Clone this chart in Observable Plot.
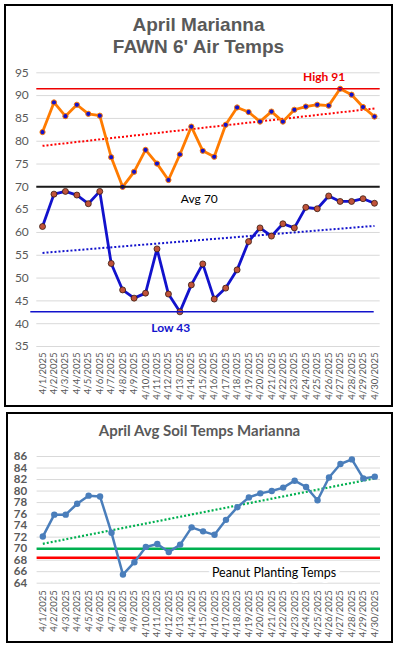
<!DOCTYPE html>
<html>
<head>
<meta charset="utf-8">
<script src="https://cdn.jsdelivr.net/npm/d3@7"></script>
<script src="https://cdn.jsdelivr.net/npm/@observablehq/plot@0.6"></script>
<style>
  body { margin: 0; background: #fff; }
  #wrap { position: relative; width: 399px; height: 650px; overflow: hidden; }
  .box { position: absolute; box-sizing: border-box; border: 2px solid #000; }
  .abs { position: absolute; }
  .t1 { left: 4px; width: 389px; top: 14px; text-align: center; font-family: "Liberation Sans", Arial, sans-serif; font-weight: bold; font-size: 19px; line-height: 22px; color: #595959; }
  .t2 { left: 6px; width: 387px; top: 421px; text-align: center; font-family: Lato, sans-serif; font-weight: bold; font-size: 15px; line-height: 18px; color: #595959; }
</style>
</head>
<body>
<div id="wrap">
  <div class="box" style="left:4px;top:4px;width:389px;height:403px"></div>
  <div class="abs t1">April Marianna<br>FAWN 6' Air Temps</div>
  <div id="top" class="abs" style="left:0;top:50px"></div>
  <div class="box" style="left:6px;top:412px;width:387px;height:231px"></div>
  <div class="abs t2">April Avg Soil Temps Marianna</div>
  <div id="bot" class="abs" style="left:0;top:440px"></div>
</div>
<script>
// ---- data ----
const dates = ["4/1/2025","4/2/2025","4/3/2025","4/4/2025","4/5/2025","4/6/2025","4/7/2025","4/8/2025","4/9/2025","4/10/2025",
  "4/11/2025","4/12/2025","4/13/2025","4/14/2025","4/15/2025","4/16/2025","4/17/2025","4/18/2025","4/19/2025","4/20/2025",
  "4/21/2025","4/22/2025","4/23/2025","4/24/2025","4/25/2025","4/26/2025","4/27/2025","4/28/2025","4/29/2025","4/30/2025"];
const highTemps = [82.0,88.5,85.5,88.0,86.0,85.6,76.5,70.0,73.3,78.1,75.1,71.5,77.1,83.2,77.9,76.6,83.6,87.4,86.4,84.3,
  86.5,84.3,86.9,87.6,88.0,87.8,91.5,90.2,87.5,85.4];
const lowTemps = [61.3,68.4,69.0,68.2,66.3,69.0,53.2,47.4,45.6,46.7,56.4,46.5,42.6,48.5,53.1,45.4,47.8,51.8,58.0,61.0,
  59.2,61.9,61.0,65.5,65.2,68.0,66.8,66.8,67.4,66.4];
const soilTemps = [72.1,75.9,75.9,77.8,79.2,79.05,72.75,65.5,67.65,70.3,70.8,69.4,70.7,73.7,73.0,72.4,75.0,77.2,78.9,79.6,
  80.0,80.6,81.8,80.7,78.4,82.35,84.7,85.5,82.2,82.5];
const airTicks = [35,40,45,50,55,60,65,70,75,80,85,90,95];
const soilTicks = [64,66,68,70,72,74,76,78,80,82,84,86];
const highRef = [{y: 91.5, label: "High 91", x: 25.6, ty: 94}];
const avgRef = [{y: 70, label: "Avg 70", x: 14.7, ty: 67.4}];
const lowRef = [{y: 42.6, label: "Low 43", x: 12.2, ty: 39.1}];
const soilRefs = [{y: 70, color: "#00B050"}, {y: 68.4, color: "#FF0000"}];
const soilNote = [{label: "Peanut Planting Temps", x: 21.2, y: 65.7}];

const rows = dates.map((d, i) => ({day: i + 1, label: d, high: highTemps[i], low: lowTemps[i], soil: soilTemps[i]}));
const dayTicks = rows.map(r => r.day);
const fmt = d => dates[d - 1];

const ORANGE = "#FF7B00", BLUE = "#1212CC", BROWN = "#C0533A";
const dotted = {strokeDasharray: "2,2", strokeLinecap: "butt", ci: 0};

const topChart = Plot.plot({
  width: 399, height: 356,
  marginLeft: 36.3, marginRight: 19.3, marginTop: 22.3, marginBottom: 60,
  x: {domain: [0.5, 30.5]},
  y: {domain: [35, 95]},
  style: {fontFamily: "Lato, sans-serif", background: "transparent", overflow: "visible"},
  marks: [
    Plot.gridY(airTicks, {stroke: "#d9d9d9", strokeOpacity: 1}),
    Plot.axisY(airTicks, {tickSize: 0, tickPadding: 8, fontSize: 12, fill: "#595959"}),
    Plot.axisX(dayTicks, {tickSize: 0, tickPadding: 6, tickRotate: -90, tickFormat: fmt, fontSize: 9.5, fill: "#595959"}),
    Plot.linearRegressionY(rows, {x: "day", y: "high", stroke: "#FF0000", strokeWidth: 2, ...dotted}),
    Plot.linearRegressionY(rows, {x: "day", y: "low", stroke: BLUE, strokeWidth: 2, ...dotted}),
    Plot.line(rows, {x: "day", y: "high", stroke: ORANGE, strokeWidth: 2.8}),
    Plot.line(rows, {x: "day", y: "low", stroke: BLUE, strokeWidth: 2.8}),
    Plot.dot(rows, {x: "day", y: "high", r: 2.6, fill: BLUE, stroke: ORANGE, strokeWidth: 1}),
    Plot.dot(rows, {x: "day", y: "low", r: 3, fill: BROWN, stroke: "#3a1a10", strokeWidth: 0.8}),
    Plot.ruleY(highRef, {y: "y", stroke: "#EE0000", strokeWidth: 1.5}),
    Plot.ruleY(avgRef, {y: "y", stroke: "#1a1a1a", strokeWidth: 2}),
    Plot.ruleY(lowRef, {y: "y", stroke: BLUE, strokeWidth: 1.5, dx: -6}),
    Plot.text(highRef, {x: "x", y: "ty", text: "label", fill: "#EE0000", fontWeight: "bold", fontSize: 12}),
    Plot.text(avgRef, {x: "x", y: "ty", text: "label", fill: "#000", fontSize: 12}),
    Plot.text(lowRef, {x: "x", y: "ty", text: "label", fill: BLUE, fontWeight: "bold", fontSize: 12})
  ]
});
document.getElementById("top").append(topChart);

const SOIL = "#4A7EBB";
const botChart = Plot.plot({
  width: 399, height: 200,
  marginLeft: 36.6, marginRight: 19, marginTop: 16, marginBottom: 57.3,
  x: {domain: [0.5, 30.5]},
  y: {domain: [64, 86]},
  style: {fontFamily: "Lato, sans-serif", background: "transparent", overflow: "visible"},
  marks: [
    Plot.gridY(soilTicks, {stroke: "#d9d9d9", strokeOpacity: 1}),
    Plot.axisY(soilTicks, {tickSize: 0, tickPadding: 10, fontSize: 11.5, fontWeight: "bold", fill: "#595959"}),
    Plot.axisX(dayTicks, {tickSize: 0, tickPadding: 7, tickRotate: -90, tickFormat: fmt, fontSize: 9.5, fill: "#595959"}),
    Plot.ruleY(soilRefs, {y: "y", stroke: "color", strokeWidth: 2.5}),
    Plot.text(soilNote, {x: "x", y: "y", text: "label", fill: "#000", fontSize: 12.5, stroke: "white", strokeWidth: 8}),
    Plot.linearRegressionY(rows, {x: "day", y: "soil", stroke: "#00B050", strokeWidth: 2.2, ...dotted}),
    Plot.line(rows, {x: "day", y: "soil", stroke: SOIL, strokeWidth: 2.5}),
    Plot.dot(rows, {x: "day", y: "soil", r: 3.2, fill: SOIL})
  ]
});
document.getElementById("bot").append(botChart);
</script>
</body>
</html>
